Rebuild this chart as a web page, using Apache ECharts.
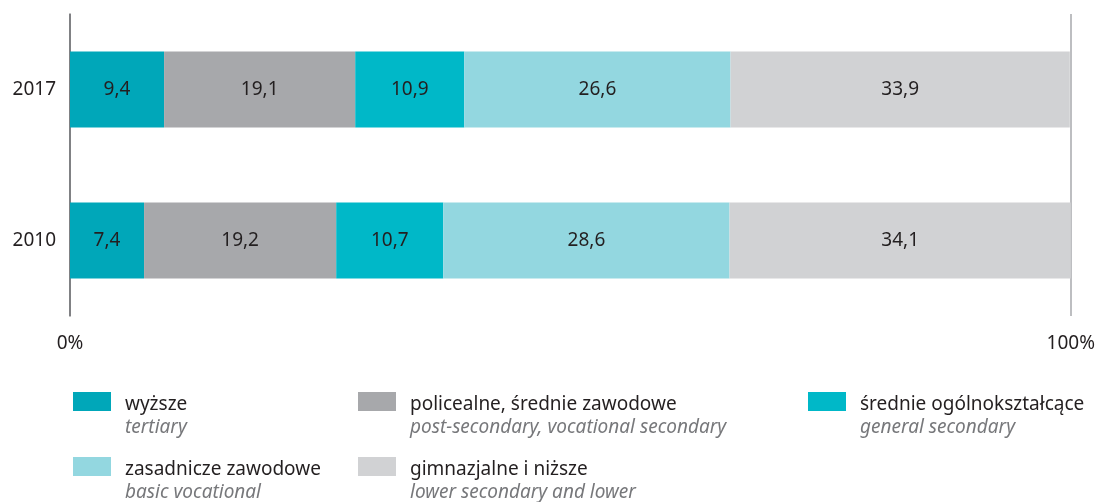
<!DOCTYPE html>
<html>
<head>
<meta charset="utf-8">
<script src="https://cdn.jsdelivr.net/npm/echarts@6/dist/echarts.min.js"></script>
<style>
  html, body { margin: 0; padding: 0; background: #ffffff; }
  #chart { width: 1098px; height: 502px; }
</style>
</head>
<body>
<div id="chart"></div>
<script>
// Education structure, share in % (bottom to top on the axis)
const years = ['2010', '2017'];
const tertiary = [7.4, 9.4];
const postSecondaryVocational = [19.2, 19.1];
const generalSecondary = [10.7, 10.9];
const basicVocational = [28.6, 26.6];
const lowerSecondary = [34.1, 33.9];

const seriesNamesPl = ['wyższe', 'policealne, średnie zawodowe', 'średnie ogólnokształcące', 'zasadnicze zawodowe', 'gimnazjalne i niższe'];
const seriesNamesEn = ['tertiary', 'post-secondary, vocational secondary', 'general secondary', 'basic vocational', 'lower secondary and lower'];
const seriesValues = [tertiary, postSecondaryVocational, generalSecondary, basicVocational, lowerSecondary];
const axisTicks = [0, 100];

const colors = ['#00a7b9', '#a7a8ab', '#00b8c8', '#93d7e0', '#d1d2d4'];
const FONT = '"Noto Sans", "Open Sans", sans-serif';
const TEXT = '#231f20';

const fmt = v => v.toFixed(1).replace('.', ',');

// One legend block per entry so each column sits where it should
const legendSpots = [
  { left: 73, top: 370 },
  { left: 358, top: 370 },
  { left: 808, top: 370 },
  { left: 73, top: 435 },
  { left: 358, top: 435 }
];
const legends = seriesNamesPl.map((name, i) => ({
  show: true,
  data: [name],
  left: legendSpots[i].left,
  top: legendSpots[i].top,
  padding: 0,
  itemWidth: 38,
  itemHeight: 19,
  icon: 'rect',
  selectedMode: false,
  formatter: n => '{e| }\n{a|' + n + '}\n{b|' + seriesNamesEn[seriesNamesPl.indexOf(n)] + '}',
  textStyle: {
    fontFamily: FONT,
    padding: [0, 0, 0, 9],
    rich: {
      e: { fontSize: 17, lineHeight: 29 },
      a: { fontSize: 19, lineHeight: 23, color: TEXT, fontFamily: FONT },
      b: { fontSize: 19, lineHeight: 23, color: '#77787b', fontStyle: 'italic', fontFamily: FONT }
    }
  }
}));

const chart = echarts.init(document.getElementById('chart'), null, { renderer: 'canvas' });

chart.setOption({
  animation: false,
  color: colors,
  legend: legends,
  grid: { left: 70, right: 26, top: 14, bottom: 186, containLabel: false },
  xAxis: {
    type: 'value',
    min: axisTicks[0],
    max: axisTicks[1],
    interval: axisTicks[1] - axisTicks[0],
    axisLine: { show: false },
    axisTick: { show: false },
    splitLine: { show: true, lineStyle: { color: '#a7a9ac', width: 1.5 } },
    axisLabel: {
      margin: 18,
      fontFamily: FONT,
      fontSize: 19,
      color: TEXT,
      formatter: v => v + '%'
    }
  },
  yAxis: {
    type: 'category',
    data: years,
    axisLine: { show: true, lineStyle: { color: '#6d6e71', width: 1.5 } },
    axisTick: { show: false },
    axisLabel: { margin: 14, fontFamily: FONT, fontSize: 19, color: TEXT }
  },
  series: seriesNamesPl.map((name, i) => ({
    name: name,
    type: 'bar',
    stack: 'total',
    barWidth: 76,
    data: seriesValues[i],
    itemStyle: { color: colors[i] },
    label: {
      show: true,
      position: 'inside',
      fontFamily: FONT,
      fontSize: 19,
      color: TEXT,
      formatter: p => fmt(p.value)
    },
    emphasis: { disabled: true }
  }))
});
</script>
</body>
</html>
